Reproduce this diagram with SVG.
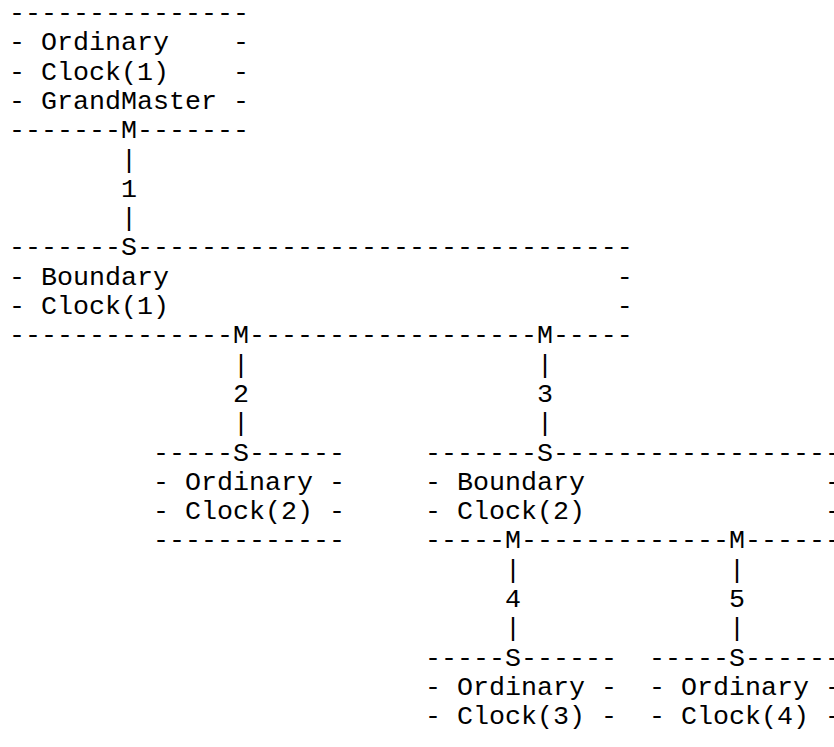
<svg xmlns="http://www.w3.org/2000/svg" width="834" height="747" viewBox="0 0 834 747">
<style>
text{font-family:"Liberation Mono","Courier New",monospace;font-size:26.667px;fill:#000;white-space:pre}
</style>
<rect width="834" height="747" fill="#fff"/>
<g id="connectors">
<text x="121" y="167.5">|</text>
<text x="121" y="196.8">1</text>
<text x="121" y="226.1">|</text>
<text x="233" y="372.6">|</text>
<text x="233" y="401.9">2</text>
<text x="233" y="431.2">|</text>
<text x="537" y="372.6">|</text>
<text x="537" y="401.9">3</text>
<text x="537" y="431.2">|</text>
<text x="505" y="577.7">|</text>
<text x="505" y="607">4</text>
<text x="505" y="636.3">|</text>
<text x="729" y="577.7">|</text>
<text x="729" y="607">5</text>
<text x="729" y="636.3">|</text>
</g>
<g id="gm">
<text x="9" y="21">---------------</text>
<text x="9" y="50.3">- Ordinary    -</text>
<text x="9" y="79.6">- Clock(1)    -</text>
<text x="9" y="108.9">- GrandMaster -</text>
<text x="9" y="138.2">-------M-------</text>
</g>
<g id="bc1">
<text x="9" y="255.4">-------S-------------------------------</text>
<text x="9" y="284.7">- Boundary                            -</text>
<text x="9" y="314">- Clock(1)                            -</text>
<text x="9" y="343.3">--------------M------------------M-----</text>
</g>
<g id="oc2">
<text x="153" y="460.5">-----S------</text>
<text x="153" y="489.8">- Ordinary -</text>
<text x="153" y="519.1">- Clock(2) -</text>
<text x="153" y="548.4">------------</text>
</g>
<g id="bc2">
<text x="425" y="460.5">-------S------------------</text>
<text x="425" y="489.8">- Boundary               -</text>
<text x="425" y="519.1">- Clock(2)               -</text>
<text x="425" y="548.4">-----M-------------M------</text>
</g>
<g id="oc3">
<text x="425" y="665.6">-----S------</text>
<text x="425" y="694.9">- Ordinary -</text>
<text x="425" y="724.2">- Clock(3) -</text>
</g>
<g id="oc4">
<text x="649" y="665.6">-----S------</text>
<text x="649" y="694.9">- Ordinary -</text>
<text x="649" y="724.2">- Clock(4) -</text>
</g>
</svg>
